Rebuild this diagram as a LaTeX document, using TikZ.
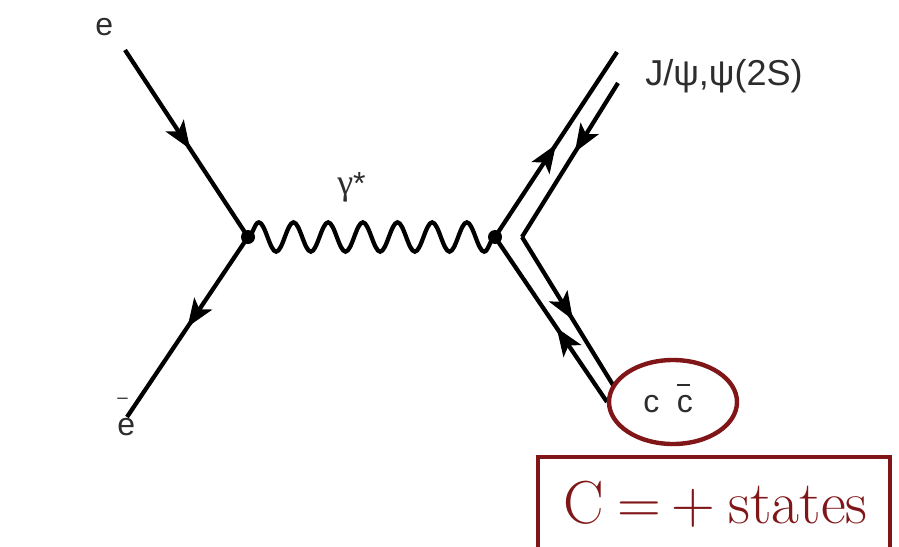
\documentclass[tikz,border=0pt]{standalone}
\usepackage{fontspec}
\newfontfamily\lab{Liberation Sans}
\newfontfamily\labserif{Liberation Serif}
\usetikzlibrary{decorations.markings,decorations.pathmorphing,arrows.meta,shapes.geometric}
\definecolor{dred}{RGB}{128,22,24}
\definecolor{lgray}{RGB}{45,45,45}
\begin{document}
\begin{tikzpicture}[x=0.75pt,y=-0.75pt,
  fline/.style={line width=3.2pt},
  farrow/.style={decoration={markings, mark=at position #1 with {\arrow{Stealth[length=21pt,width=16pt,inset=5pt]}}}, postaction={decorate}},
  photon/.style={line width=3.2pt, decorate, decoration={snake, segment length=26pt, amplitude=11pt}},
  vdot/.style={circle, fill=black, inner sep=0pt, minimum size=10.5pt},
  lbl/.style={font=\lab\fontsize{24}{28}\selectfont, text=lgray, inner sep=0pt},
]
\useasboundingbox (0,0) rectangle (899,546);
\clip (0,0) rectangle (899,546);
\fill[white] (0,0) rectangle (899,546);
% vertices and end points
\coordinate (ein) at (125,50);
\coordinate (eout) at (127,417);
\node[vdot] (v1) at (248,237) {};
\node[vdot] (v2) at (495,237) {};
\coordinate (ci) at (522,237);
\coordinate (qt) at (617,52);
\coordinate (qbt) at (618,83);
\coordinate (qb) at (607,402);
\coordinate (qbb) at (613,385);
% electron lines
\draw[fline, farrow=0.53] (ein) -- (v1.center);
\draw[fline, farrow=0.50] (v1.center) -- (eout);
% photon
\draw[photon] (v1.center) -- (v2.center);
% quark lines
\draw[fline, farrow=0.50] (v2.center) -- (qt);
\draw[fline, farrow=0.45] (qbt) -- (ci);
\draw[fline, farrow=0.56] (ci) -- (qbb);
\draw[fline, farrow=0.45] (qb) -- (v2.center);
% labels
\node[lbl, anchor=base west] (le) at (95,35) {e};
\node[lbl, anchor=base west] (leb) at (117,435) {e};
\node[lbl, anchor=base west, font=\lab\fontsize{14}{16}\selectfont] (lebar) at (117,403) {–};
\node[lbl, anchor=base west] (lg) at (337,194) {{\labserif\fontsize{27}{30}\selectfont γ}*};
\node[lbl, anchor=base west, font=\lab\fontsize{27}{30}\selectfont] (lj) at (645,85) {J/ψ,ψ(2S)};
\node[lbl, anchor=base west] (lcc) at (643,412) {c\hspace{0.55em}\makebox[0pt][l]{\raisebox{0.82em}{\rule{0.42em}{0.06em}}}c};
% ellipse
\node[ellipse, draw=dred, line width=3.3pt, minimum width=96pt, minimum height=63pt, inner sep=0pt] (ell) at (673,402) {};
% box
\coordinate (b1) at (538,457);
\coordinate (b2) at (890,580);
\draw[dred, line width=3.3pt] (b1) rectangle (b2);
\node[anchor=base west, text=dred, inner sep=0pt, font=\fontsize{45.5}{52}\selectfont] (cst) at (563,523) {C\hspace{0.22em}=\hspace{0.18em}+\hspace{0.22em}states};
\end{tikzpicture}
\end{document}
